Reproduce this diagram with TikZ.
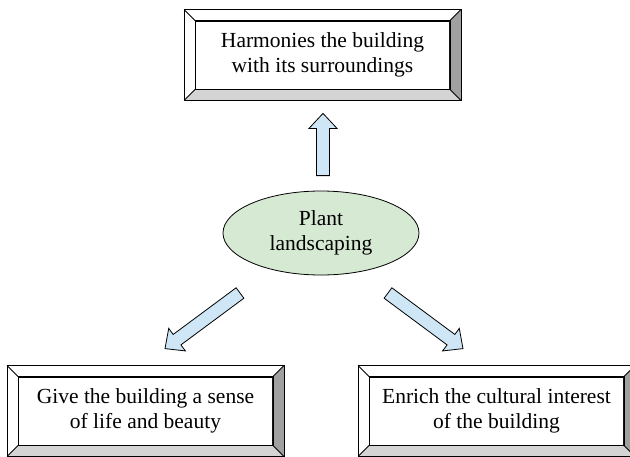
\documentclass[tikz,border=0pt]{standalone}
\usepackage{fontspec}
\setmainfont{Liberation Serif}
\usetikzlibrary{calc,shapes.geometric}

\definecolor{hubgreen}{RGB}{214,234,211}
\definecolor{arrowblue}{RGB}{206,230,245}
\definecolor{bevelgray}{RGB}{160,160,160}
\definecolor{bevellight}{RGB}{212,212,212}

\tikzset{
  panel/.style={draw, line width=0.8pt, fill=white, minimum width=254pt, minimum height=68pt,
    inner sep=0pt, align=center, font=\fontsize{21.5}{25}\selectfont},
  hub/.style={ellipse, draw, line width=0.8pt, fill=hubgreen, minimum width=196pt,
    minimum height=84pt, inner sep=0pt, align=center, font=\fontsize{21.5}{25}\selectfont},
  arrowbody/.style={draw, line width=0.8pt, fill=arrowblue, line join=miter},
  bevelright/.style={fill=bevelgray},
  bevelbottom/.style={fill=bevellight}
}

% bevelled frame round a panel node
\newcommand{\drawbevel}[1]{%
  \fill[bevelright] (#1.north east) -- ([shift={(11pt,11pt)}]#1.north east) -- ([shift={(11pt,-11pt)}]#1.south east) -- (#1.south east) -- cycle;%
  \fill[bevelbottom] (#1.south west) -- (#1.south east) -- ([shift={(11pt,-11pt)}]#1.south east) -- ([shift={(-11pt,-11pt)}]#1.south west) -- cycle;%
  \draw[line width=0.8pt] ([shift={(-11pt,-11pt)}]#1.south west) rectangle ([shift={(11pt,11pt)}]#1.north east);%
  \draw[line width=0.8pt] (#1.south west) rectangle (#1.north east);%
  \foreach \c/\dx/\dy in {north west/-11pt/11pt, north east/11pt/11pt, south east/11pt/-11pt, south west/-11pt/-11pt}
    \draw[line width=0.8pt] (#1.\c) -- ([shift={(\dx,\dy)}]#1.\c);%
}

% block arrow from #1 to #2
\newcommand{\fatarrow}[2]{%
  \coordinate (fa-b) at ($(#2)!15pt!(#1)$);%
  \filldraw[arrowbody] ($(#1)!6.5pt!90:(#2)$) -- ($(fa-b)!6.5pt!-90:(#1)$) -- ($(fa-b)!14pt!-90:(#1)$) -- (#2)
    -- ($(fa-b)!14pt!90:(#1)$) -- ($(fa-b)!6.5pt!90:(#1)$) -- ($(#1)!6.5pt!-90:(#2)$) -- cycle;%
}

\begin{document}
\begin{tikzpicture}[x=1pt,y=-1pt]
  \clip (0,0) rectangle (630,456);
  \useasboundingbox (0,0) rectangle (630,456);

  % Panels
  \node[panel] (harmony) at (322.5,55) {Harmonies the building\\with its surroundings};%
  \node[panel] (lifebeauty) at (145.5,411) {Give the building a sense\\of life and beauty};%
  \node[panel] (culture) at (496.5,411) {Enrich the cultural interest\\of the building};%
  \drawbevel{harmony}
  \drawbevel{lifebeauty}
  \drawbevel{culture}

  % Centre ellipse
  \node[hub] (plant) at (321,233) {Plant\\landscaping};%

  % Arrow ends
  \coordinate (up-tail) at ($(plant.north)+(2,-15)$);%
  \coordinate (up-tip) at ($(harmony.south)+(0.5,24)$);%
  \coordinate (left-tail) at ($(plant)+(-81,60)$);%
  \coordinate (left-tip) at ($(lifebeauty.north)+(19.5,-28)$);%
  \coordinate (right-tail) at ($(plant)+(67,60)$);%
  \coordinate (right-tip) at ($(culture.north)+(-33.5,-28)$);%

  % Drawing arrows
  \fatarrow{up-tail}{up-tip}
  \fatarrow{left-tail}{left-tip}
  \fatarrow{right-tail}{right-tip}
\end{tikzpicture}
\end{document}
